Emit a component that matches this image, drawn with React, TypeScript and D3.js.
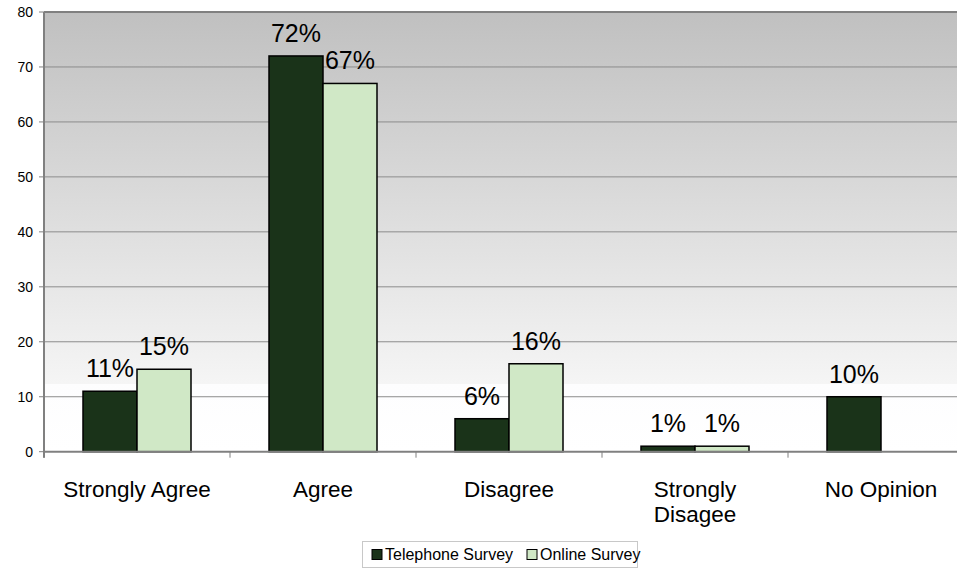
import React from "react";
import * as d3 from "d3";

const categories: string[][] = [["Strongly Agree"], ["Agree"], ["Disagree"], ["Strongly", "Disagee"], ["No Opinion"]];
const seriesNames = ["Telephone Survey", "Online Survey"];
const telephone: (number | null)[] = [11, 72, 6, 1, 10];
const online: (number | null)[] = [15, 67, 16, 1, null];
const yTicks = [0, 10, 20, 30, 40, 50, 60, 70, 80];
const colors = ["#1a3319", "#d0e8c6"];

const W = 957, H = 568;
const left = 44, top = 12, bottom = 451.7;
const catW = 186;
const right = left + catW * 5;

export default function App() {
  const y = d3.scaleLinear().domain([0, 80]).range([bottom, top]);
  const x = d3.scaleBand().domain(categories.map((_, i) => String(i))).range([left, right]).paddingInner(0).paddingOuter(0);
  const inner = d3.scaleBand().domain(["0", "1"]).range([39, 147]).paddingInner(0).paddingOuter(0);
  const font = "'Liberation Sans', Arial, sans-serif";
  const series = [telephone, online];
  return (
    <svg width={W} height={H} style={{ position: "absolute", left: 0, top: 0 }} fontFamily={font}>
      <defs>
        <linearGradient id="bg" x1="0" y1="0" x2="0" y2="1">
          <stop offset="0" stopColor="#c0c0c0" />
          <stop offset={(384 - top) / (bottom - top)} stopColor="#f5f5f5" />
          <stop offset={(384 - top) / (bottom - top) + 0.0001} stopColor="#fdfdfe" />
          <stop offset="1" stopColor="#ffffff" />
        </linearGradient>
      </defs>
      <rect x={0} y={0} width={W} height={H} fill="#fff" />
      <rect x={left} y={top} width={right - left} height={bottom - top} fill="url(#bg)" />
      {yTicks.map((t) => (
        <g key={t}>
          {t > 0 && <line x1={left} x2={right} y1={y(t)} y2={y(t)} stroke={t === 80 ? "#808080" : "#8c8c8c"} strokeWidth={t === 80 ? 2 : 1} />}
          <line x1={left - 5} x2={left} y1={y(t)} y2={y(t)} stroke="#808080" />
          <text x={left - 11} y={y(t)} dy="0.35em" textAnchor="end" fontSize={14} fill="#000">{t}</text>
        </g>
      ))}
      <line x1={left} x2={left} y1={top} y2={bottom + 6} stroke="#808080" strokeWidth={2} />
      {series.map((vals, si) =>
        vals.map((v, ci) => {
          if (v === null) return null;
          const bx = (x(String(ci)) as number) + (inner(String(si)) as number);
          return (
            <rect key={si + "-" + ci} x={bx} y={y(v)} width={inner.bandwidth()} height={bottom - y(v)} fill={colors[si]} stroke="#000" strokeWidth={1.5} />
          );
        })
      )}
      <line x1={left} x2={right} y1={bottom} y2={bottom} stroke="#808080" strokeWidth={2} />
      {categories.map((_, i) => (
        <line key={i} x1={x(String(i)) as number} x2={x(String(i)) as number} y1={bottom} y2={bottom + 6} stroke="#808080" />
      ))}
      {series.map((vals, si) =>
        vals.map((v, ci) => {
          if (v === null) return null;
          const bx = (x(String(ci)) as number) + (inner(String(si)) as number) + inner.bandwidth() / 2;
          return (
            <text key={"l" + si + "-" + ci} x={bx} y={y(v) - 14} textAnchor="middle" fontSize={25} fill="#000">{v}%</text>
          );
        })
      )}
      {categories.map((lines, i) => (
        <text key={"c" + i} x={(x(String(i)) as number) + catW / 2} y={497} textAnchor="middle" fontSize={22.5} fill="#000">
          {lines.map((l, j) => (
            <tspan key={j} x={(x(String(i)) as number) + catW / 2} dy={j === 0 ? 0 : 24.5}>{l}</tspan>
          ))}
        </text>
      ))}
      <g>
        <rect x={362.5} y={541.5} width={275} height={26} fill="#fff" stroke="#c8c8c8" />
        {seriesNames.map((n, i) => {
          const lx = [372, 527][i];
          return (
            <g key={n}>
              <rect x={lx} y={549.5} width={10} height={10} fill={colors[i]} stroke="#000" />
              <text x={lx + 13} y={560} fontSize={16} fill="#000">{n}</text>
            </g>
          );
        })}
      </g>
    </svg>
  );
}
